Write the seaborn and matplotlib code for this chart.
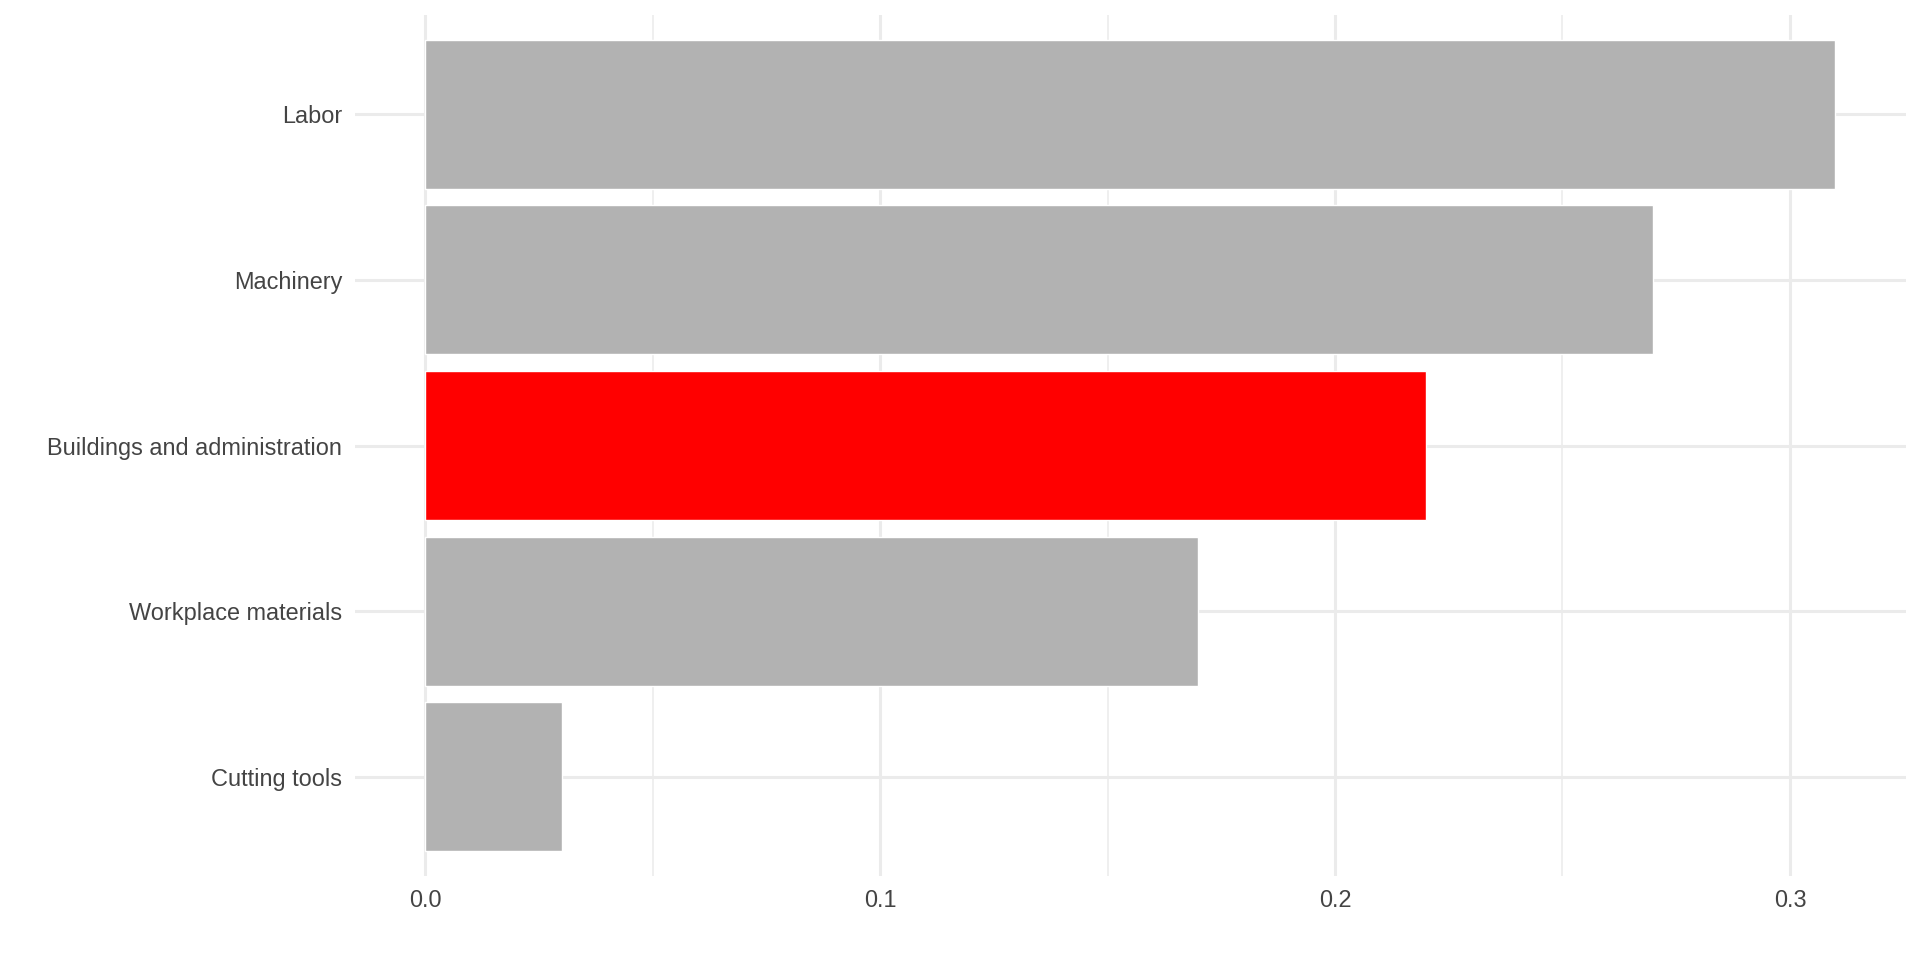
import matplotlib
matplotlib.use("Agg")
import matplotlib.pyplot as plt
import seaborn as sns
import pandas as pd
from matplotlib.ticker import FixedLocator

categories = ["Labor", "Machinery", "Buildings and administration", "Workplace materials", "Cutting tools"]
values = [0.31, 0.27, 0.22, 0.17, 0.03]
highlight = ["no", "no", "yes", "no", "no"]
palette = {"no": "#b2b2b2", "yes": "#ff0000"}
x_ticks = [0.0, 0.1, 0.2, 0.3]
x_labels = ["0.0", "0.1", "0.2", "0.3"]

sns.set_theme(style="white")
plt.rcParams['font.family'] = ['Liberation Sans', 'DejaVu Sans']

df = pd.DataFrame({"category": categories, "value": values, "hl": highlight})

fig = plt.figure(figsize=(19.2, 9.6), dpi=100)
ax = fig.add_axes([354.5 / 1920, 1 - 876 / 960, (1906 - 354.5) / 1920, (876 - 15) / 960])

sns.barplot(data=df, y="category", x="value", hue="hl", palette=palette, order=categories,
            orient="h", width=0.9, dodge=False, legend=False, ax=ax, saturation=1, zorder=3)

vmax = max(values)
ax.set_xlim(-0.05 * vmax, vmax * 1.05)
ax.set_ylim(len(categories) - 0.4, -0.6)

ax.xaxis.set_major_locator(FixedLocator(x_ticks))
ax.set_xticklabels(x_labels)
ax.xaxis.set_minor_locator(FixedLocator([0.05, 0.15, 0.25]))

ax.grid(True, which="major", axis="both", color="#ebebeb", linewidth=2.2, zorder=0)
ax.grid(True, which="minor", axis="x", color="#ebebeb", linewidth=1.1, zorder=0)
ax.set_axisbelow(True)
for s in ax.spines.values():
    s.set_visible(False)

ax.set_xlabel("")
ax.set_ylabel("")
ax.tick_params(axis="both", which="both", length=0, labelsize=16.9, colors="#444444")
ax.tick_params(axis="y", pad=9)
ax.tick_params(axis="x", pad=9.5)

fig.savefig("out.png", dpi=100, facecolor="white")
